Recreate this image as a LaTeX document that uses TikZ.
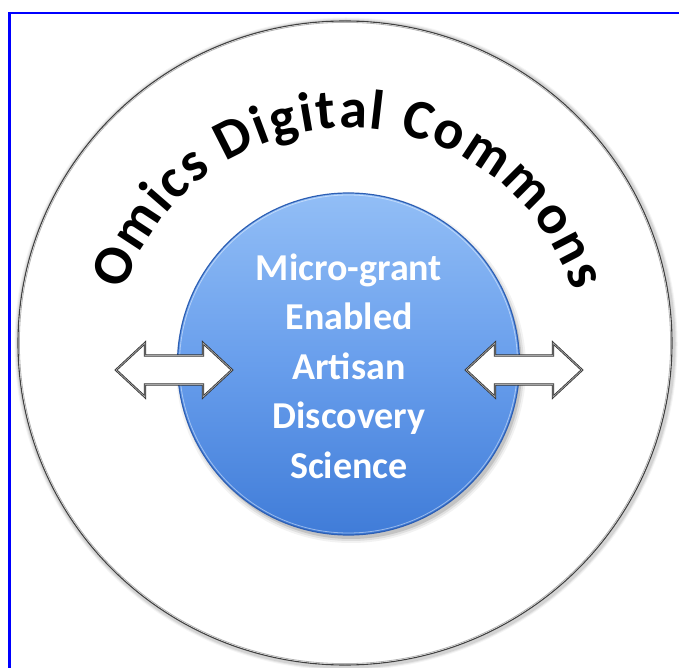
\documentclass[tikz,border=0pt]{standalone}
\usepackage{fontspec}
\setmainfont{Carlito}
\usetikzlibrary{decorations.text}
\definecolor{frameblue}{RGB}{0,0,255}
\definecolor{coretop}{RGB}{146,190,246}
\definecolor{coremid}{RGB}{104,158,236}
\definecolor{corebot}{RGB}{64,124,216}
\definecolor{coreedge}{RGB}{45,95,180}
\tikzset{
  arrowshape/.style={draw=black!80, line width=2.3pt, fill=white, line join=miter},
  arrowinner/.style={draw=black!35, line width=0.7pt, line join=miter},
  coretext/.style={text=white, align=center, font=\fontsize{38}{49.5}\selectfont\bfseries}
}
\begin{document}
\begin{tikzpicture}[x=1pt,y=1pt]
\useasboundingbox (0,0) rectangle (679,667);
\clip (0,0) rectangle (679,667);
\fill[white] (0,0) rectangle (679,667);
% blue frame (cropped at right and bottom)
\draw[frameblue, line width=2.2pt] (9.5,-20) -- (9.5,654) -- (700,654);
% outer circle with soft shadow
\foreach \w/\o in {7/0.04,5/0.06,3/0.08}{
  \draw[black, opacity=\o, line width=\w pt] (346,323) ellipse[x radius=328, y radius=323];
}
\fill[white] (345,324) ellipse[x radius=327, y radius=322];
\draw[black!75, line width=1.1pt] (345,324) ellipse[x radius=327, y radius=322];
\draw[black!30, line width=0.8pt] (345,324) ellipse[x radius=325.6, y radius=320.6];
% inner circle shadow
\foreach \r/\o in {175/0.05,173/0.08,171/0.12}{
  \fill[black, opacity=\o] (351,299) circle[radius=\r];
}
% inner circle
\shade[top color=coretop, bottom color=corebot, middle color=coremid] (348.5,303) circle[radius=171];
\draw[coreedge, line width=1.2pt] (348.5,303) circle[radius=171];
\draw[white, opacity=0.45, line width=0.8pt] (348.5,303) circle[radius=169];
\node[coretext] (core) at (349,301) {Micro-grant\\Enabled\\Artisan\\Discovery\\Science};
% arc text
\path[decorate, decoration={text along path, text align={fit to path},
  text={|\fontsize{56}{58}\selectfont\bfseries|Omics Digital Commons}}]
  (348.5,303) ++(162:236) arc[start angle=162, end angle=18, radius=236];
% arrows
\foreach \a/\b/\c/\d in {116/145/203/232, 466/495/553/582}{
  \draw[arrowshape] (\a,297) -- (\b,324) -- (\b,311.5) -- (\c,311.5) -- (\c,324) -- (\d,297)
     -- (\c,270) -- (\c,282.5) -- (\b,282.5) -- (\b,270) -- cycle;
  \draw[arrowinner] (\a,297) -- (\b,324) -- (\b,311.5) -- (\c,311.5) -- (\c,324) -- (\d,297)
     -- (\c,270) -- (\c,282.5) -- (\b,282.5) -- (\b,270) -- cycle;
}
\end{tikzpicture}
\end{document}
